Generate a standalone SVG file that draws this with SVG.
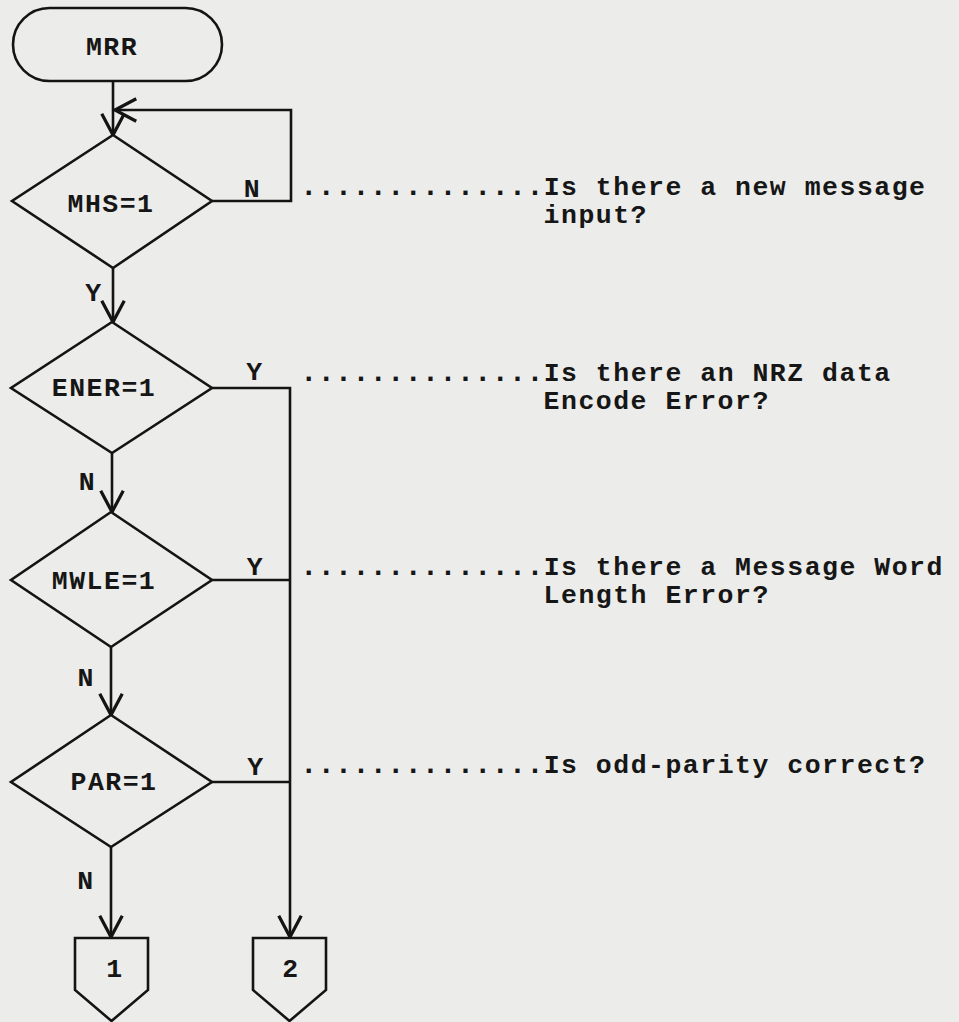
<svg xmlns="http://www.w3.org/2000/svg" width="959" height="1022" viewBox="0 0 959 1022">
<style>
.s{fill:none;stroke:#141414;stroke-width:2.6;stroke-linejoin:miter}
.n{fill:#ececea;stroke:#141414;stroke-width:2.6}
text{font-family:"Liberation Mono","DejaVu Sans Mono",monospace;font-weight:bold;font-size:26.5px;letter-spacing:1.5px;fill:#161616}
.c{text-anchor:middle}
.d{font-size:29px;letter-spacing:0px}
</style>
<defs>
<marker id="a" markerUnits="userSpaceOnUse" markerWidth="30" markerHeight="30" viewBox="-20 -12 24 24" refX="0" refY="0" orient="auto">
<path d="M-17,-9 L0,0 L-17,9" fill="none" stroke="#141414" stroke-width="2.6"/>
</marker>
</defs>
<rect width="959" height="1022" fill="#ececea"/>
<g id="connectors">
<path class="s" d="M113,81 V135" marker-end="url(#a)"/>
<path class="s" d="M212,201 H291 V110 H115" marker-end="url(#a)"/>
<path class="s" d="M113,268 V322" marker-end="url(#a)"/>
<path class="s" d="M112,453 V512" marker-end="url(#a)"/>
<path class="s" d="M111,647 V715" marker-end="url(#a)"/>
<path class="s" d="M111,847 V937" marker-end="url(#a)"/>
<path class="s" d="M212,388 H290 V937" marker-end="url(#a)"/>
<path class="s" d="M212,580 H290"/>
<path class="s" d="M212,782 H290"/>
<text class="c" x="252.5" y="197">N</text>
<text class="c" x="94" y="301">Y</text>
<text class="c" x="255" y="380">Y</text>
<text class="c" x="87.5" y="490">N</text>
<text class="c" x="255.5" y="575">Y</text>
<text class="c" x="86.3" y="686">N</text>
<text class="c" x="256" y="775">Y</text>
<text class="c" x="86" y="889">N</text>
</g>
<g id="mrr">
<rect class="n" x="13" y="8" width="209" height="73" rx="36.5"/>
<text class="c" x="112" y="55">MRR</text>
</g>
<g id="mhs">
<polygon class="n" points="113,135 212,201 113,268 12,201"/>
<text class="c" x="111" y="212">MHS=1</text>
</g>
<g id="ener">
<polygon class="n" points="112,322 212,388 112,453 11,388"/>
<text class="c" x="104" y="396">ENER=1</text>
</g>
<g id="mwle">
<polygon class="n" points="111,512 212,580 111,647 11,580"/>
<text class="c" x="104" y="589">MWLE=1</text>
</g>
<g id="par">
<polygon class="n" points="111,715 212,782 111,847 11,782"/>
<text class="c" x="114" y="790">PAR=1</text>
</g>
<g id="off1">
<polygon class="n" points="75,938 148,938 148,990 111.5,1021 75,990"/>
<text class="c" x="115" y="977">1</text>
</g>
<g id="off2">
<polygon class="n" points="253,938 326,938 326,990 289.5,1021 253,990"/>
<text class="c" x="291" y="977">2</text>
</g>
<g id="note-mhs">
<text x="300" y="195"><tspan class="d">..............</tspan>Is there a new message</text>
<text x="543.6" y="223">input?</text>
</g>
<g id="note-ener">
<text x="300" y="381"><tspan class="d">..............</tspan>Is there an NRZ data</text>
<text x="543.6" y="409">Encode Error?</text>
</g>
<g id="note-mwle">
<text x="300" y="575"><tspan class="d">..............</tspan>Is there a Message Word</text>
<text x="543.6" y="603">Length Error?</text>
</g>
<g id="note-par">
<text x="300" y="773"><tspan class="d">..............</tspan>Is odd-parity correct?</text>
</g>
</svg>
